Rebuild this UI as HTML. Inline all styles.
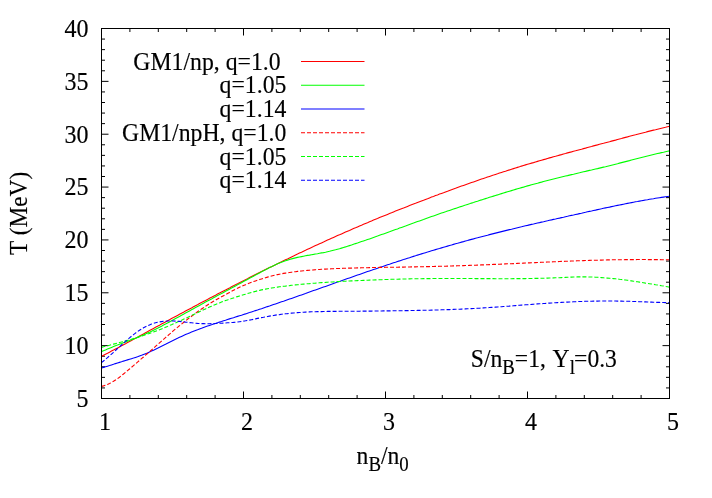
<!DOCTYPE html><html><head><meta charset="utf-8"><style>html,body{margin:0;padding:0;background:#fff}svg{display:block;will-change:transform}text{font-family:"Liberation Serif",serif;font-size:24px;fill:#000;stroke:#000;stroke-width:0.15px}</style></head><body>
<svg width="712" height="498" viewBox="0 0 712 498">
<rect width="712" height="498" fill="#fff"/>
<path d="M101.5,398.5 v-7.0 M101.5,28.5 v7.0 M129.9,398.5 v-3.5 M129.9,28.5 v3.5 M158.3,398.5 v-3.5 M158.3,28.5 v3.5 M186.7,398.5 v-3.5 M186.7,28.5 v3.5 M215.1,398.5 v-3.5 M215.1,28.5 v3.5 M243.5,398.5 v-7.0 M243.5,28.5 v7.0 M271.9,398.5 v-3.5 M271.9,28.5 v3.5 M300.3,398.5 v-3.5 M300.3,28.5 v3.5 M328.7,398.5 v-3.5 M328.7,28.5 v3.5 M357.1,398.5 v-3.5 M357.1,28.5 v3.5 M385.5,398.5 v-7.0 M385.5,28.5 v7.0 M413.9,398.5 v-3.5 M413.9,28.5 v3.5 M442.3,398.5 v-3.5 M442.3,28.5 v3.5 M470.7,398.5 v-3.5 M470.7,28.5 v3.5 M499.1,398.5 v-3.5 M499.1,28.5 v3.5 M527.5,398.5 v-7.0 M527.5,28.5 v7.0 M555.9,398.5 v-3.5 M555.9,28.5 v3.5 M584.3,398.5 v-3.5 M584.3,28.5 v3.5 M612.7,398.5 v-3.5 M612.7,28.5 v3.5 M641.1,398.5 v-3.5 M641.1,28.5 v3.5 M669.5,398.5 v-7.0 M669.5,28.5 v7.0 M101.5,398.50 h7.0 M669.5,398.50 h-7.0 M101.5,387.93 h3.5 M669.5,387.93 h-3.5 M101.5,377.36 h3.5 M669.5,377.36 h-3.5 M101.5,366.79 h3.5 M669.5,366.79 h-3.5 M101.5,356.21 h3.5 M669.5,356.21 h-3.5 M101.5,345.64 h7.0 M669.5,345.64 h-7.0 M101.5,335.07 h3.5 M669.5,335.07 h-3.5 M101.5,324.50 h3.5 M669.5,324.50 h-3.5 M101.5,313.93 h3.5 M669.5,313.93 h-3.5 M101.5,303.36 h3.5 M669.5,303.36 h-3.5 M101.5,292.79 h7.0 M669.5,292.79 h-7.0 M101.5,282.21 h3.5 M669.5,282.21 h-3.5 M101.5,271.64 h3.5 M669.5,271.64 h-3.5 M101.5,261.07 h3.5 M669.5,261.07 h-3.5 M101.5,250.50 h3.5 M669.5,250.50 h-3.5 M101.5,239.93 h7.0 M669.5,239.93 h-7.0 M101.5,229.36 h3.5 M669.5,229.36 h-3.5 M101.5,218.79 h3.5 M669.5,218.79 h-3.5 M101.5,208.21 h3.5 M669.5,208.21 h-3.5 M101.5,197.64 h3.5 M669.5,197.64 h-3.5 M101.5,187.07 h7.0 M669.5,187.07 h-7.0 M101.5,176.50 h3.5 M669.5,176.50 h-3.5 M101.5,165.93 h3.5 M669.5,165.93 h-3.5 M101.5,155.36 h3.5 M669.5,155.36 h-3.5 M101.5,144.79 h3.5 M669.5,144.79 h-3.5 M101.5,134.21 h7.0 M669.5,134.21 h-7.0 M101.5,123.64 h3.5 M669.5,123.64 h-3.5 M101.5,113.07 h3.5 M669.5,113.07 h-3.5 M101.5,102.50 h3.5 M669.5,102.50 h-3.5 M101.5,91.93 h3.5 M669.5,91.93 h-3.5 M101.5,81.36 h7.0 M669.5,81.36 h-7.0 M101.5,70.79 h3.5 M669.5,70.79 h-3.5 M101.5,60.21 h3.5 M669.5,60.21 h-3.5 M101.5,49.64 h3.5 M669.5,49.64 h-3.5 M101.5,39.07 h3.5 M669.5,39.07 h-3.5 M101.5,28.50 h7.0 M669.5,28.50 h-7.0" stroke="#000" stroke-width="1" fill="none"/>
<path d="M101.5,356.4 L103.5,355.3 L105.5,354.3 L107.5,353.3 L109.5,352.2 L111.5,351.1 L113.5,350.1 L115.5,349.0 L117.5,348.0 L119.5,346.9 L121.5,345.8 L123.5,344.7 L125.5,343.7 L127.5,342.6 L129.5,341.5 L131.5,340.4 L133.5,339.3 L135.5,338.2 L137.5,337.2 L139.5,336.1 L141.5,335.0 L143.5,333.9 L145.5,332.8 L147.5,331.7 L149.5,330.6 L151.5,329.5 L153.5,328.4 L155.5,327.3 L157.5,326.2 L159.5,325.2 L161.5,324.1 L163.5,323.0 L165.5,321.9 L167.5,320.8 L169.5,319.7 L171.5,318.6 L173.5,317.6 L175.5,316.5 L177.5,315.4 L179.5,314.3 L181.5,313.2 L183.5,312.2 L185.5,311.1 L187.5,310.0 L189.5,308.9 L191.5,307.9 L193.5,306.8 L195.5,305.7 L197.5,304.7 L199.5,303.6 L201.5,302.6 L203.5,301.5 L205.5,300.4 L207.5,299.4 L209.5,298.3 L211.5,297.3 L213.5,296.2 L215.5,295.2 L217.5,294.1 L219.5,293.1 L221.5,292.0 L223.5,291.0 L225.5,290.0 L227.5,288.9 L229.5,287.9 L231.5,286.8 L233.5,285.8 L235.5,284.8 L237.5,283.8 L239.5,282.7 L241.5,281.7 L243.5,280.7 L245.5,279.7 L247.5,278.7 L249.5,277.6 L251.5,276.6 L253.5,275.6 L255.5,274.6 L257.5,273.6 L259.5,272.6 L261.5,271.6 L263.5,270.6 L265.5,269.6 L267.5,268.6 L269.5,267.6 L271.5,266.7 L273.5,265.7 L275.5,264.7 L277.5,263.7 L279.5,262.7 L281.5,261.8 L283.5,260.8 L285.5,259.8 L287.5,258.9 L289.5,257.9 L291.5,256.9 L293.5,256.0 L295.5,255.0 L297.5,254.1 L299.5,253.1 L301.5,252.2 L303.5,251.2 L305.5,250.3 L307.5,249.3 L309.5,248.4 L311.5,247.5 L313.5,246.6 L315.5,245.6 L317.5,244.7 L319.5,243.8 L321.5,242.9 L323.5,242.0 L325.5,241.0 L327.5,240.1 L329.5,239.2 L331.5,238.3 L333.5,237.4 L335.5,236.5 L337.5,235.6 L339.5,234.8 L341.5,233.9 L343.5,233.0 L345.5,232.1 L347.5,231.2 L349.5,230.4 L351.5,229.5 L353.5,228.6 L355.5,227.8 L357.5,226.9 L359.5,226.0 L361.5,225.2 L363.5,224.3 L365.5,223.5 L367.5,222.7 L369.5,221.8 L371.5,221.0 L373.5,220.1 L375.5,219.3 L377.5,218.5 L379.5,217.6 L381.5,216.8 L383.5,216.0 L385.5,215.2 L387.5,214.4 L389.5,213.6 L391.5,212.8 L393.5,211.9 L395.5,211.1 L397.5,210.3 L399.5,209.5 L401.5,208.7 L403.5,208.0 L405.5,207.2 L407.5,206.4 L409.5,205.6 L411.5,204.8 L413.5,204.0 L415.5,203.3 L417.5,202.5 L419.5,201.7 L421.5,200.9 L423.5,200.2 L425.5,199.4 L427.5,198.7 L429.5,197.9 L431.5,197.1 L433.5,196.4 L435.5,195.6 L437.5,194.9 L439.5,194.1 L441.5,193.4 L443.5,192.7 L445.5,191.9 L447.5,191.2 L449.5,190.4 L451.5,189.7 L453.5,189.0 L455.5,188.3 L457.5,187.5 L459.5,186.8 L461.5,186.1 L463.5,185.4 L465.5,184.7 L467.5,184.0 L469.5,183.3 L471.5,182.6 L473.5,181.9 L475.5,181.2 L477.5,180.5 L479.5,179.8 L481.5,179.1 L483.5,178.4 L485.5,177.8 L487.5,177.1 L489.5,176.4 L491.5,175.7 L493.5,175.1 L495.5,174.4 L497.5,173.8 L499.5,173.1 L501.5,172.4 L503.5,171.8 L505.5,171.2 L507.5,170.5 L509.5,169.9 L511.5,169.2 L513.5,168.6 L515.5,168.0 L517.5,167.4 L519.5,166.8 L521.5,166.1 L523.5,165.5 L525.5,164.9 L527.5,164.3 L529.5,163.7 L531.5,163.1 L533.5,162.6 L535.5,162.0 L537.5,161.4 L539.5,160.8 L541.5,160.2 L543.5,159.6 L545.5,159.1 L547.5,158.5 L549.5,157.9 L551.5,157.4 L553.5,156.8 L555.5,156.3 L557.5,155.7 L559.5,155.1 L561.5,154.6 L563.5,154.0 L565.5,153.5 L567.5,152.9 L569.5,152.4 L571.5,151.9 L573.5,151.3 L575.5,150.8 L577.5,150.2 L579.5,149.7 L581.5,149.2 L583.5,148.6 L585.5,148.1 L587.5,147.5 L589.5,147.0 L591.5,146.5 L593.5,145.9 L595.5,145.4 L597.5,144.9 L599.5,144.3 L601.5,143.8 L603.5,143.3 L605.5,142.7 L607.5,142.2 L609.5,141.7 L611.5,141.1 L613.5,140.6 L615.5,140.1 L617.5,139.5 L619.5,139.0 L621.5,138.5 L623.5,137.9 L625.5,137.4 L627.5,136.9 L629.5,136.3 L631.5,135.8 L633.5,135.3 L635.5,134.8 L637.5,134.2 L639.5,133.7 L641.5,133.2 L643.5,132.7 L645.5,132.2 L647.5,131.6 L649.5,131.1 L651.5,130.6 L653.5,130.1 L655.5,129.7 L657.5,129.2 L659.5,128.7 L661.5,128.2 L663.5,127.7 L665.5,127.3 L667.5,126.8 L669.5,126.3" stroke="#ff0000" stroke-width="1.1" fill="none"/>
<path d="M301,61.45 H364.5" stroke="#ff0000" stroke-width="1.1" fill="none"/>
<path d="M101.5,351.6 L103.5,350.7 L105.5,349.9 L107.5,349.0 L109.5,348.2 L111.5,347.4 L113.5,346.6 L115.5,345.8 L117.5,345.1 L119.5,344.3 L121.5,343.6 L123.5,342.8 L125.5,342.1 L127.5,341.3 L129.5,340.6 L131.5,339.8 L133.5,339.1 L135.5,338.3 L137.5,337.5 L139.5,336.6 L141.5,335.8 L143.5,334.9 L145.5,334.0 L147.5,333.1 L149.5,332.2 L151.5,331.2 L153.5,330.2 L155.5,329.2 L157.5,328.2 L159.5,327.2 L161.5,326.2 L163.5,325.1 L165.5,324.1 L167.5,323.0 L169.5,321.9 L171.5,320.8 L173.5,319.7 L175.5,318.6 L177.5,317.5 L179.5,316.4 L181.5,315.3 L183.5,314.2 L185.5,313.1 L187.5,312.0 L189.5,310.9 L191.5,309.8 L193.5,308.7 L195.5,307.6 L197.5,306.5 L199.5,305.4 L201.5,304.3 L203.5,303.2 L205.5,302.1 L207.5,301.0 L209.5,299.9 L211.5,298.9 L213.5,297.8 L215.5,296.7 L217.5,295.6 L219.5,294.5 L221.5,293.5 L223.5,292.4 L225.5,291.3 L227.5,290.2 L229.5,289.2 L231.5,288.1 L233.5,287.0 L235.5,285.9 L237.5,284.8 L239.5,283.8 L241.5,282.7 L243.5,281.6 L245.5,280.5 L247.5,279.4 L249.5,278.3 L251.5,277.2 L253.5,276.2 L255.5,275.1 L257.5,274.0 L259.5,272.9 L261.5,271.8 L263.5,270.8 L265.5,269.7 L267.5,268.7 L269.5,267.6 L271.5,266.7 L273.5,265.7 L275.5,264.7 L277.5,263.8 L279.5,263.0 L281.5,262.2 L283.5,261.4 L285.5,260.7 L287.5,260.1 L289.5,259.5 L291.5,258.9 L293.5,258.4 L295.5,257.9 L297.5,257.4 L299.5,257.0 L301.5,256.6 L303.5,256.2 L305.5,255.8 L307.5,255.4 L309.5,255.1 L311.5,254.7 L313.5,254.4 L315.5,254.0 L317.5,253.7 L319.5,253.3 L321.5,252.9 L323.5,252.6 L325.5,252.2 L327.5,251.7 L329.5,251.3 L331.5,250.8 L333.5,250.3 L335.5,249.8 L337.5,249.2 L339.5,248.7 L341.5,248.1 L343.5,247.5 L345.5,246.9 L347.5,246.2 L349.5,245.6 L351.5,245.0 L353.5,244.3 L355.5,243.6 L357.5,243.0 L359.5,242.3 L361.5,241.6 L363.5,240.9 L365.5,240.3 L367.5,239.6 L369.5,238.9 L371.5,238.2 L373.5,237.5 L375.5,236.8 L377.5,236.1 L379.5,235.3 L381.5,234.6 L383.5,233.9 L385.5,233.2 L387.5,232.5 L389.5,231.8 L391.5,231.0 L393.5,230.3 L395.5,229.6 L397.5,228.9 L399.5,228.1 L401.5,227.4 L403.5,226.7 L405.5,226.0 L407.5,225.2 L409.5,224.5 L411.5,223.8 L413.5,223.1 L415.5,222.3 L417.5,221.6 L419.5,220.9 L421.5,220.2 L423.5,219.5 L425.5,218.7 L427.5,218.0 L429.5,217.3 L431.5,216.6 L433.5,215.9 L435.5,215.2 L437.5,214.5 L439.5,213.8 L441.5,213.1 L443.5,212.4 L445.5,211.8 L447.5,211.1 L449.5,210.4 L451.5,209.7 L453.5,209.0 L455.5,208.4 L457.5,207.7 L459.5,207.0 L461.5,206.4 L463.5,205.7 L465.5,205.1 L467.5,204.4 L469.5,203.8 L471.5,203.1 L473.5,202.5 L475.5,201.8 L477.5,201.2 L479.5,200.5 L481.5,199.9 L483.5,199.2 L485.5,198.6 L487.5,198.0 L489.5,197.3 L491.5,196.7 L493.5,196.1 L495.5,195.5 L497.5,194.9 L499.5,194.2 L501.5,193.6 L503.5,193.0 L505.5,192.4 L507.5,191.8 L509.5,191.2 L511.5,190.6 L513.5,190.0 L515.5,189.4 L517.5,188.8 L519.5,188.2 L521.5,187.6 L523.5,187.1 L525.5,186.5 L527.5,185.9 L529.5,185.4 L531.5,184.8 L533.5,184.2 L535.5,183.7 L537.5,183.2 L539.5,182.6 L541.5,182.1 L543.5,181.5 L545.5,181.0 L547.5,180.5 L549.5,180.0 L551.5,179.5 L553.5,179.0 L555.5,178.5 L557.5,178.0 L559.5,177.5 L561.5,177.0 L563.5,176.5 L565.5,176.0 L567.5,175.6 L569.5,175.1 L571.5,174.6 L573.5,174.2 L575.5,173.7 L577.5,173.2 L579.5,172.8 L581.5,172.3 L583.5,171.8 L585.5,171.4 L587.5,170.9 L589.5,170.4 L591.5,170.0 L593.5,169.5 L595.5,169.0 L597.5,168.6 L599.5,168.1 L601.5,167.6 L603.5,167.1 L605.5,166.7 L607.5,166.2 L609.5,165.7 L611.5,165.2 L613.5,164.7 L615.5,164.2 L617.5,163.7 L619.5,163.1 L621.5,162.6 L623.5,162.1 L625.5,161.6 L627.5,161.1 L629.5,160.6 L631.5,160.0 L633.5,159.5 L635.5,159.0 L637.5,158.5 L639.5,158.0 L641.5,157.5 L643.5,157.0 L645.5,156.5 L647.5,156.0 L649.5,155.5 L651.5,155.0 L653.5,154.5 L655.5,154.0 L657.5,153.5 L659.5,153.1 L661.5,152.6 L663.5,152.2 L665.5,151.7 L667.5,151.3 L669.5,150.9" stroke="#00ff00" stroke-width="1.1" fill="none"/>
<path d="M301,85.20 H364.5" stroke="#00ff00" stroke-width="1.1" fill="none"/>
<path d="M101.5,368.0 L103.5,367.4 L105.5,366.8 L107.5,366.2 L109.5,365.6 L111.5,364.9 L113.5,364.3 L115.5,363.6 L117.5,363.0 L119.5,362.4 L121.5,361.8 L123.5,361.1 L125.5,360.5 L127.5,359.9 L129.5,359.3 L131.5,358.7 L133.5,358.1 L135.5,357.4 L137.5,356.8 L139.5,356.0 L141.5,355.3 L143.5,354.5 L145.5,353.7 L147.5,352.9 L149.5,352.0 L151.5,351.1 L153.5,350.2 L155.5,349.2 L157.5,348.3 L159.5,347.3 L161.5,346.3 L163.5,345.3 L165.5,344.3 L167.5,343.2 L169.5,342.2 L171.5,341.2 L173.5,340.2 L175.5,339.2 L177.5,338.3 L179.5,337.3 L181.5,336.4 L183.5,335.5 L185.5,334.6 L187.5,333.8 L189.5,332.9 L191.5,332.1 L193.5,331.3 L195.5,330.5 L197.5,329.8 L199.5,329.0 L201.5,328.3 L203.5,327.5 L205.5,326.8 L207.5,326.1 L209.5,325.4 L211.5,324.8 L213.5,324.1 L215.5,323.4 L217.5,322.8 L219.5,322.1 L221.5,321.5 L223.5,320.8 L225.5,320.2 L227.5,319.5 L229.5,318.9 L231.5,318.3 L233.5,317.7 L235.5,317.0 L237.5,316.4 L239.5,315.8 L241.5,315.2 L243.5,314.5 L245.5,313.9 L247.5,313.2 L249.5,312.6 L251.5,311.9 L253.5,311.3 L255.5,310.6 L257.5,310.0 L259.5,309.3 L261.5,308.7 L263.5,308.0 L265.5,307.3 L267.5,306.6 L269.5,306.0 L271.5,305.3 L273.5,304.6 L275.5,303.9 L277.5,303.2 L279.5,302.5 L281.5,301.8 L283.5,301.2 L285.5,300.5 L287.5,299.8 L289.5,299.1 L291.5,298.4 L293.5,297.7 L295.5,297.0 L297.5,296.3 L299.5,295.6 L301.5,294.9 L303.5,294.2 L305.5,293.5 L307.5,292.7 L309.5,292.0 L311.5,291.3 L313.5,290.6 L315.5,289.9 L317.5,289.2 L319.5,288.5 L321.5,287.8 L323.5,287.1 L325.5,286.4 L327.5,285.7 L329.5,285.0 L331.5,284.3 L333.5,283.5 L335.5,282.8 L337.5,282.1 L339.5,281.4 L341.5,280.7 L343.5,280.0 L345.5,279.3 L347.5,278.6 L349.5,277.9 L351.5,277.2 L353.5,276.5 L355.5,275.8 L357.5,275.1 L359.5,274.4 L361.5,273.7 L363.5,273.0 L365.5,272.3 L367.5,271.6 L369.5,270.9 L371.5,270.3 L373.5,269.6 L375.5,268.9 L377.5,268.2 L379.5,267.5 L381.5,266.9 L383.5,266.2 L385.5,265.5 L387.5,264.8 L389.5,264.2 L391.5,263.5 L393.5,262.8 L395.5,262.2 L397.5,261.5 L399.5,260.9 L401.5,260.2 L403.5,259.6 L405.5,258.9 L407.5,258.3 L409.5,257.7 L411.5,257.0 L413.5,256.4 L415.5,255.8 L417.5,255.1 L419.5,254.5 L421.5,253.9 L423.5,253.3 L425.5,252.7 L427.5,252.1 L429.5,251.4 L431.5,250.8 L433.5,250.2 L435.5,249.6 L437.5,249.0 L439.5,248.5 L441.5,247.9 L443.5,247.3 L445.5,246.7 L447.5,246.1 L449.5,245.5 L451.5,245.0 L453.5,244.4 L455.5,243.8 L457.5,243.3 L459.5,242.7 L461.5,242.1 L463.5,241.6 L465.5,241.0 L467.5,240.5 L469.5,239.9 L471.5,239.4 L473.5,238.9 L475.5,238.3 L477.5,237.8 L479.5,237.2 L481.5,236.7 L483.5,236.2 L485.5,235.7 L487.5,235.2 L489.5,234.6 L491.5,234.1 L493.5,233.6 L495.5,233.1 L497.5,232.6 L499.5,232.1 L501.5,231.6 L503.5,231.1 L505.5,230.6 L507.5,230.1 L509.5,229.6 L511.5,229.2 L513.5,228.7 L515.5,228.2 L517.5,227.7 L519.5,227.2 L521.5,226.8 L523.5,226.3 L525.5,225.8 L527.5,225.4 L529.5,224.9 L531.5,224.4 L533.5,224.0 L535.5,223.5 L537.5,223.0 L539.5,222.6 L541.5,222.1 L543.5,221.7 L545.5,221.2 L547.5,220.8 L549.5,220.3 L551.5,219.9 L553.5,219.4 L555.5,219.0 L557.5,218.5 L559.5,218.1 L561.5,217.6 L563.5,217.2 L565.5,216.7 L567.5,216.3 L569.5,215.8 L571.5,215.4 L573.5,215.0 L575.5,214.5 L577.5,214.1 L579.5,213.6 L581.5,213.2 L583.5,212.7 L585.5,212.3 L587.5,211.8 L589.5,211.4 L591.5,211.0 L593.5,210.5 L595.5,210.1 L597.5,209.6 L599.5,209.2 L601.5,208.8 L603.5,208.3 L605.5,207.9 L607.5,207.5 L609.5,207.1 L611.5,206.6 L613.5,206.2 L615.5,205.8 L617.5,205.4 L619.5,205.0 L621.5,204.6 L623.5,204.2 L625.5,203.8 L627.5,203.4 L629.5,203.0 L631.5,202.6 L633.5,202.2 L635.5,201.8 L637.5,201.5 L639.5,201.1 L641.5,200.7 L643.5,200.4 L645.5,200.0 L647.5,199.7 L649.5,199.3 L651.5,199.0 L653.5,198.7 L655.5,198.3 L657.5,198.0 L659.5,197.7 L661.5,197.4 L663.5,197.1 L665.5,196.8 L667.5,196.5 L669.5,196.3" stroke="#0000ff" stroke-width="1.1" fill="none"/>
<path d="M301,108.95 H364.5" stroke="#0000ff" stroke-width="1.1" fill="none"/>
<path d="M101.5,386.4 L103.5,385.9 L105.5,385.3 L107.5,384.5 L109.5,383.6 L111.5,382.5 L113.5,381.3 L115.5,380.0 L117.5,378.7 L119.5,377.2 L121.5,375.6 L123.5,374.0 L125.5,372.4 L127.5,370.7 L129.5,369.0 L131.5,367.3 L133.5,365.6 L135.5,363.9 L137.5,362.2 L139.5,360.4 L141.5,358.7 L143.5,357.0 L145.5,355.2 L147.5,353.5 L149.5,351.7 L151.5,350.0 L153.5,348.2 L155.5,346.4 L157.5,344.7 L159.5,342.9 L161.5,341.1 L163.5,339.4 L165.5,337.6 L167.5,335.9 L169.5,334.2 L171.5,332.4 L173.5,330.7 L175.5,329.0 L177.5,327.4 L179.5,325.7 L181.5,324.1 L183.5,322.5 L185.5,320.9 L187.5,319.3 L189.5,317.8 L191.5,316.3 L193.5,314.8 L195.5,313.3 L197.5,311.8 L199.5,310.4 L201.5,309.0 L203.5,307.7 L205.5,306.3 L207.5,305.0 L209.5,303.7 L211.5,302.5 L213.5,301.3 L215.5,300.2 L217.5,299.0 L219.5,297.9 L221.5,296.8 L223.5,295.7 L225.5,294.6 L227.5,293.5 L229.5,292.4 L231.5,291.4 L233.5,290.3 L235.5,289.3 L237.5,288.3 L239.5,287.3 L241.5,286.4 L243.5,285.5 L245.5,284.7 L247.5,283.8 L249.5,283.1 L251.5,282.3 L253.5,281.6 L255.5,280.9 L257.5,280.2 L259.5,279.6 L261.5,278.9 L263.5,278.3 L265.5,277.7 L267.5,277.1 L269.5,276.5 L271.5,276.0 L273.5,275.5 L275.5,275.0 L277.5,274.6 L279.5,274.2 L281.5,273.8 L283.5,273.4 L285.5,273.1 L287.5,272.8 L289.5,272.5 L291.5,272.2 L293.5,271.9 L295.5,271.7 L297.5,271.4 L299.5,271.2 L301.5,271.0 L303.5,270.8 L305.5,270.6 L307.5,270.4 L309.5,270.2 L311.5,270.0 L313.5,269.9 L315.5,269.7 L317.5,269.6 L319.5,269.5 L321.5,269.3 L323.5,269.2 L325.5,269.1 L327.5,269.0 L329.5,268.9 L331.5,268.8 L333.5,268.7 L335.5,268.6 L337.5,268.5 L339.5,268.5 L341.5,268.4 L343.5,268.3 L345.5,268.3 L347.5,268.2 L349.5,268.1 L351.5,268.1 L353.5,268.0 L355.5,268.0 L357.5,267.9 L359.5,267.9 L361.5,267.8 L363.5,267.8 L365.5,267.7 L367.5,267.7 L369.5,267.6 L371.5,267.6 L373.5,267.5 L375.5,267.5 L377.5,267.5 L379.5,267.4 L381.5,267.4 L383.5,267.4 L385.5,267.3 L387.5,267.3 L389.5,267.3 L391.5,267.2 L393.5,267.2 L395.5,267.2 L397.5,267.2 L399.5,267.1 L401.5,267.1 L403.5,267.1 L405.5,267.0 L407.5,267.0 L409.5,267.0 L411.5,266.9 L413.5,266.9 L415.5,266.9 L417.5,266.8 L419.5,266.8 L421.5,266.8 L423.5,266.7 L425.5,266.7 L427.5,266.6 L429.5,266.6 L431.5,266.5 L433.5,266.5 L435.5,266.4 L437.5,266.4 L439.5,266.3 L441.5,266.3 L443.5,266.2 L445.5,266.2 L447.5,266.1 L449.5,266.1 L451.5,266.0 L453.5,265.9 L455.5,265.9 L457.5,265.8 L459.5,265.7 L461.5,265.7 L463.5,265.6 L465.5,265.5 L467.5,265.5 L469.5,265.4 L471.5,265.3 L473.5,265.2 L475.5,265.2 L477.5,265.1 L479.5,265.0 L481.5,264.9 L483.5,264.9 L485.5,264.8 L487.5,264.7 L489.5,264.6 L491.5,264.5 L493.5,264.4 L495.5,264.4 L497.5,264.3 L499.5,264.2 L501.5,264.1 L503.5,264.0 L505.5,263.9 L507.5,263.8 L509.5,263.8 L511.5,263.7 L513.5,263.6 L515.5,263.5 L517.5,263.4 L519.5,263.3 L521.5,263.2 L523.5,263.1 L525.5,263.0 L527.5,262.9 L529.5,262.9 L531.5,262.8 L533.5,262.7 L535.5,262.6 L537.5,262.5 L539.5,262.4 L541.5,262.3 L543.5,262.2 L545.5,262.1 L547.5,262.0 L549.5,262.0 L551.5,261.9 L553.5,261.8 L555.5,261.7 L557.5,261.6 L559.5,261.5 L561.5,261.4 L563.5,261.4 L565.5,261.3 L567.5,261.2 L569.5,261.1 L571.5,261.0 L573.5,261.0 L575.5,260.9 L577.5,260.8 L579.5,260.7 L581.5,260.7 L583.5,260.6 L585.5,260.5 L587.5,260.5 L589.5,260.4 L591.5,260.3 L593.5,260.3 L595.5,260.2 L597.5,260.2 L599.5,260.1 L601.5,260.1 L603.5,260.0 L605.5,260.0 L607.5,259.9 L609.5,259.9 L611.5,259.8 L613.5,259.8 L615.5,259.8 L617.5,259.7 L619.5,259.7 L621.5,259.7 L623.5,259.7 L625.5,259.6 L627.5,259.6 L629.5,259.6 L631.5,259.6 L633.5,259.6 L635.5,259.6 L637.5,259.5 L639.5,259.5 L641.5,259.5 L643.5,259.5 L645.5,259.5 L647.5,259.6 L649.5,259.6 L651.5,259.6 L653.5,259.6 L655.5,259.6 L657.5,259.6 L659.5,259.6 L661.5,259.7 L663.5,259.7 L665.5,259.7 L667.5,259.8 L669.5,259.8" stroke="#ff0000" stroke-width="1.1" fill="none" stroke-dasharray="4 2"/>
<path d="M301,132.70 H364.5" stroke="#ff0000" stroke-width="1.1" fill="none" stroke-dasharray="4 2"/>
<path d="M101.5,347.4 L103.5,346.8 L105.5,346.3 L107.5,345.7 L109.5,345.2 L111.5,344.6 L113.5,344.1 L115.5,343.6 L117.5,343.0 L119.5,342.5 L121.5,342.0 L123.5,341.4 L125.5,340.9 L127.5,340.4 L129.5,339.8 L131.5,339.2 L133.5,338.6 L135.5,338.0 L137.5,337.4 L139.5,336.8 L141.5,336.1 L143.5,335.5 L145.5,334.8 L147.5,334.1 L149.5,333.4 L151.5,332.7 L153.5,332.0 L155.5,331.2 L157.5,330.5 L159.5,329.7 L161.5,328.9 L163.5,328.1 L165.5,327.2 L167.5,326.4 L169.5,325.5 L171.5,324.7 L173.5,323.8 L175.5,322.9 L177.5,322.0 L179.5,321.1 L181.5,320.2 L183.5,319.2 L185.5,318.3 L187.5,317.4 L189.5,316.4 L191.5,315.5 L193.5,314.5 L195.5,313.6 L197.5,312.7 L199.5,311.7 L201.5,310.8 L203.5,309.8 L205.5,308.9 L207.5,308.0 L209.5,307.1 L211.5,306.2 L213.5,305.3 L215.5,304.5 L217.5,303.7 L219.5,302.9 L221.5,302.1 L223.5,301.3 L225.5,300.6 L227.5,299.9 L229.5,299.2 L231.5,298.6 L233.5,297.9 L235.5,297.3 L237.5,296.6 L239.5,296.0 L241.5,295.4 L243.5,294.8 L245.5,294.2 L247.5,293.6 L249.5,293.0 L251.5,292.4 L253.5,291.9 L255.5,291.4 L257.5,290.8 L259.5,290.4 L261.5,289.9 L263.5,289.5 L265.5,289.1 L267.5,288.7 L269.5,288.4 L271.5,288.0 L273.5,287.7 L275.5,287.4 L277.5,287.1 L279.5,286.8 L281.5,286.6 L283.5,286.3 L285.5,286.1 L287.5,285.8 L289.5,285.6 L291.5,285.3 L293.5,285.1 L295.5,284.9 L297.5,284.7 L299.5,284.5 L301.5,284.3 L303.5,284.1 L305.5,283.9 L307.5,283.7 L309.5,283.6 L311.5,283.4 L313.5,283.2 L315.5,283.1 L317.5,282.9 L319.5,282.8 L321.5,282.6 L323.5,282.5 L325.5,282.4 L327.5,282.2 L329.5,282.1 L331.5,282.0 L333.5,281.9 L335.5,281.7 L337.5,281.6 L339.5,281.5 L341.5,281.4 L343.5,281.3 L345.5,281.2 L347.5,281.1 L349.5,281.0 L351.5,280.9 L353.5,280.8 L355.5,280.7 L357.5,280.6 L359.5,280.5 L361.5,280.5 L363.5,280.4 L365.5,280.3 L367.5,280.2 L369.5,280.1 L371.5,280.0 L373.5,280.0 L375.5,279.9 L377.5,279.8 L379.5,279.7 L381.5,279.7 L383.5,279.6 L385.5,279.5 L387.5,279.5 L389.5,279.4 L391.5,279.3 L393.5,279.3 L395.5,279.2 L397.5,279.2 L399.5,279.1 L401.5,279.1 L403.5,279.0 L405.5,279.0 L407.5,278.9 L409.5,278.9 L411.5,278.8 L413.5,278.8 L415.5,278.8 L417.5,278.7 L419.5,278.7 L421.5,278.7 L423.5,278.6 L425.5,278.6 L427.5,278.6 L429.5,278.6 L431.5,278.6 L433.5,278.5 L435.5,278.5 L437.5,278.5 L439.5,278.5 L441.5,278.5 L443.5,278.5 L445.5,278.5 L447.5,278.5 L449.5,278.5 L451.5,278.5 L453.5,278.5 L455.5,278.5 L457.5,278.5 L459.5,278.5 L461.5,278.5 L463.5,278.5 L465.5,278.5 L467.5,278.5 L469.5,278.5 L471.5,278.5 L473.5,278.5 L475.5,278.6 L477.5,278.6 L479.5,278.6 L481.5,278.6 L483.5,278.6 L485.5,278.6 L487.5,278.6 L489.5,278.6 L491.5,278.6 L493.5,278.6 L495.5,278.7 L497.5,278.7 L499.5,278.7 L501.5,278.7 L503.5,278.7 L505.5,278.7 L507.5,278.7 L509.5,278.7 L511.5,278.7 L513.5,278.6 L515.5,278.6 L517.5,278.6 L519.5,278.6 L521.5,278.6 L523.5,278.6 L525.5,278.6 L527.5,278.5 L529.5,278.5 L531.5,278.5 L533.5,278.4 L535.5,278.4 L537.5,278.4 L539.5,278.3 L541.5,278.3 L543.5,278.2 L545.5,278.2 L547.5,278.1 L549.5,278.0 L551.5,278.0 L553.5,277.9 L555.5,277.8 L557.5,277.7 L559.5,277.7 L561.5,277.6 L563.5,277.5 L565.5,277.4 L567.5,277.3 L569.5,277.2 L571.5,277.1 L573.5,277.0 L575.5,277.0 L577.5,276.9 L579.5,276.9 L581.5,276.9 L583.5,276.9 L585.5,276.9 L587.5,276.9 L589.5,277.0 L591.5,277.0 L593.5,277.1 L595.5,277.2 L597.5,277.3 L599.5,277.5 L601.5,277.6 L603.5,277.8 L605.5,277.9 L607.5,278.1 L609.5,278.3 L611.5,278.4 L613.5,278.6 L615.5,278.8 L617.5,279.0 L619.5,279.3 L621.5,279.5 L623.5,279.8 L625.5,280.0 L627.5,280.3 L629.5,280.6 L631.5,280.9 L633.5,281.2 L635.5,281.5 L637.5,281.8 L639.5,282.1 L641.5,282.4 L643.5,282.7 L645.5,283.1 L647.5,283.4 L649.5,283.7 L651.5,284.0 L653.5,284.3 L655.5,284.7 L657.5,285.0 L659.5,285.3 L661.5,285.7 L663.5,286.0 L665.5,286.4 L667.5,286.8 L669.5,287.2" stroke="#00ff00" stroke-width="1.1" fill="none" stroke-dasharray="4 2"/>
<path d="M301,156.45 H364.5" stroke="#00ff00" stroke-width="1.1" fill="none" stroke-dasharray="4 2"/>
<path d="M101.5,362.7 L103.5,361.0 L105.5,359.3 L107.5,357.6 L109.5,355.9 L111.5,354.1 L113.5,352.3 L115.5,350.5 L117.5,348.6 L119.5,346.8 L121.5,345.0 L123.5,343.2 L125.5,341.4 L127.5,339.6 L129.5,337.9 L131.5,336.2 L133.5,334.6 L135.5,333.1 L137.5,331.6 L139.5,330.3 L141.5,329.0 L143.5,327.8 L145.5,326.7 L147.5,325.7 L149.5,324.9 L151.5,324.1 L153.5,323.4 L155.5,322.8 L157.5,322.3 L159.5,321.9 L161.5,321.6 L163.5,321.3 L165.5,321.2 L167.5,321.0 L169.5,321.0 L171.5,321.0 L173.5,321.0 L175.5,321.1 L177.5,321.2 L179.5,321.4 L181.5,321.6 L183.5,321.8 L185.5,322.1 L187.5,322.3 L189.5,322.6 L191.5,322.8 L193.5,323.0 L195.5,323.2 L197.5,323.4 L199.5,323.5 L201.5,323.6 L203.5,323.6 L205.5,323.7 L207.5,323.7 L209.5,323.7 L211.5,323.6 L213.5,323.6 L215.5,323.5 L217.5,323.4 L219.5,323.3 L221.5,323.2 L223.5,323.1 L225.5,323.0 L227.5,322.8 L229.5,322.7 L231.5,322.5 L233.5,322.4 L235.5,322.2 L237.5,322.0 L239.5,321.7 L241.5,321.4 L243.5,321.1 L245.5,320.8 L247.5,320.4 L249.5,320.1 L251.5,319.7 L253.5,319.3 L255.5,318.9 L257.5,318.4 L259.5,318.0 L261.5,317.6 L263.5,317.3 L265.5,316.9 L267.5,316.5 L269.5,316.1 L271.5,315.8 L273.5,315.5 L275.5,315.1 L277.5,314.8 L279.5,314.6 L281.5,314.3 L283.5,314.0 L285.5,313.8 L287.5,313.6 L289.5,313.3 L291.5,313.1 L293.5,313.0 L295.5,312.8 L297.5,312.6 L299.5,312.5 L301.5,312.4 L303.5,312.2 L305.5,312.1 L307.5,312.0 L309.5,311.9 L311.5,311.8 L313.5,311.8 L315.5,311.7 L317.5,311.6 L319.5,311.6 L321.5,311.6 L323.5,311.5 L325.5,311.5 L327.5,311.4 L329.5,311.4 L331.5,311.4 L333.5,311.4 L335.5,311.4 L337.5,311.3 L339.5,311.3 L341.5,311.3 L343.5,311.3 L345.5,311.3 L347.5,311.3 L349.5,311.2 L351.5,311.2 L353.5,311.2 L355.5,311.2 L357.5,311.2 L359.5,311.2 L361.5,311.1 L363.5,311.1 L365.5,311.1 L367.5,311.1 L369.5,311.1 L371.5,311.1 L373.5,311.0 L375.5,311.0 L377.5,311.0 L379.5,311.0 L381.5,311.0 L383.5,310.9 L385.5,310.9 L387.5,310.9 L389.5,310.9 L391.5,310.8 L393.5,310.8 L395.5,310.8 L397.5,310.8 L399.5,310.7 L401.5,310.7 L403.5,310.7 L405.5,310.6 L407.5,310.6 L409.5,310.6 L411.5,310.5 L413.5,310.5 L415.5,310.5 L417.5,310.4 L419.5,310.4 L421.5,310.3 L423.5,310.3 L425.5,310.3 L427.5,310.2 L429.5,310.2 L431.5,310.1 L433.5,310.1 L435.5,310.0 L437.5,310.0 L439.5,309.9 L441.5,309.8 L443.5,309.8 L445.5,309.7 L447.5,309.6 L449.5,309.6 L451.5,309.5 L453.5,309.4 L455.5,309.3 L457.5,309.3 L459.5,309.2 L461.5,309.1 L463.5,309.0 L465.5,308.9 L467.5,308.8 L469.5,308.7 L471.5,308.6 L473.5,308.5 L475.5,308.4 L477.5,308.3 L479.5,308.2 L481.5,308.0 L483.5,307.9 L485.5,307.8 L487.5,307.7 L489.5,307.5 L491.5,307.4 L493.5,307.3 L495.5,307.1 L497.5,307.0 L499.5,306.8 L501.5,306.7 L503.5,306.5 L505.5,306.4 L507.5,306.2 L509.5,306.1 L511.5,305.9 L513.5,305.8 L515.5,305.6 L517.5,305.5 L519.5,305.3 L521.5,305.1 L523.5,305.0 L525.5,304.8 L527.5,304.7 L529.5,304.5 L531.5,304.4 L533.5,304.2 L535.5,304.1 L537.5,303.9 L539.5,303.8 L541.5,303.7 L543.5,303.5 L545.5,303.4 L547.5,303.2 L549.5,303.1 L551.5,303.0 L553.5,302.9 L555.5,302.7 L557.5,302.6 L559.5,302.5 L561.5,302.4 L563.5,302.3 L565.5,302.2 L567.5,302.1 L569.5,302.0 L571.5,301.9 L573.5,301.8 L575.5,301.7 L577.5,301.6 L579.5,301.5 L581.5,301.5 L583.5,301.4 L585.5,301.3 L587.5,301.3 L589.5,301.2 L591.5,301.2 L593.5,301.1 L595.5,301.1 L597.5,301.1 L599.5,301.0 L601.5,301.0 L603.5,301.0 L605.5,301.0 L607.5,301.0 L609.5,301.0 L611.5,301.0 L613.5,301.0 L615.5,301.0 L617.5,301.1 L619.5,301.1 L621.5,301.1 L623.5,301.2 L625.5,301.2 L627.5,301.3 L629.5,301.3 L631.5,301.4 L633.5,301.5 L635.5,301.5 L637.5,301.6 L639.5,301.7 L641.5,301.8 L643.5,301.8 L645.5,301.9 L647.5,302.0 L649.5,302.1 L651.5,302.1 L653.5,302.2 L655.5,302.3 L657.5,302.4 L659.5,302.4 L661.5,302.5 L663.5,302.5 L665.5,302.6 L667.5,302.6 L669.5,302.7" stroke="#0000ff" stroke-width="1.1" fill="none" stroke-dasharray="4 2"/>
<path d="M301,180.20 H364.5" stroke="#0000ff" stroke-width="1.1" fill="none" stroke-dasharray="4 2"/>
<rect x="101.5" y="28.5" width="568.0" height="370.0" fill="none" stroke="#000" stroke-width="1"/>
<text transform="translate(88.40,406.90) scale(1.000,1.050)" text-anchor="end" xml:space="preserve">5</text>
<text transform="translate(88.40,354.04) scale(1.000,1.050)" text-anchor="end" xml:space="preserve">10</text>
<text transform="translate(88.40,301.19) scale(1.000,1.050)" text-anchor="end" xml:space="preserve">15</text>
<text transform="translate(88.40,248.33) scale(1.000,1.050)" text-anchor="end" xml:space="preserve">20</text>
<text transform="translate(88.40,195.47) scale(1.000,1.050)" text-anchor="end" xml:space="preserve">25</text>
<text transform="translate(88.40,142.61) scale(1.000,1.050)" text-anchor="end" xml:space="preserve">30</text>
<text transform="translate(88.40,89.76) scale(1.000,1.050)" text-anchor="end" xml:space="preserve">35</text>
<text transform="translate(88.40,36.90) scale(1.000,1.050)" text-anchor="end" xml:space="preserve">40</text>
<text transform="translate(105.10,430.30) scale(1.000,1.040)" text-anchor="middle" xml:space="preserve">1</text>
<text transform="translate(247.10,430.30) scale(1.000,1.040)" text-anchor="middle" xml:space="preserve">2</text>
<text transform="translate(389.10,430.30) scale(1.000,1.040)" text-anchor="middle" xml:space="preserve">3</text>
<text transform="translate(531.10,430.30) scale(1.000,1.040)" text-anchor="middle" xml:space="preserve">4</text>
<text transform="translate(673.10,430.30) scale(1.000,1.040)" text-anchor="middle" xml:space="preserve">5</text>
<text transform="translate(280.60,69.50) scale(0.990,1.070)" text-anchor="end" xml:space="preserve">GM1/np, q=1.0</text>
<text transform="translate(286.40,93.25) scale(0.990,1.070)" text-anchor="end" xml:space="preserve">q=1.05</text>
<text transform="translate(286.40,117.00) scale(0.990,1.070)" text-anchor="end" xml:space="preserve">q=1.14</text>
<text transform="translate(286.40,140.75) scale(0.990,1.070)" text-anchor="end" xml:space="preserve">GM1/npH, q=1.0</text>
<text transform="translate(286.40,164.50) scale(0.990,1.070)" text-anchor="end" xml:space="preserve">q=1.05</text>
<text transform="translate(286.40,188.25) scale(0.990,1.070)" text-anchor="end" xml:space="preserve">q=1.14</text>
<text transform="translate(356.60,463.90) scale(0.983,1.070)" xml:space="preserve">n<tspan font-size="19.2" dy="6.8">B</tspan><tspan dy="-6.8">/n</tspan><tspan font-size="19.2" dy="6.8">0</tspan></text>
<text transform="translate(26.70,254.90) rotate(-90) scale(0.972,1.020)" xml:space="preserve">T (MeV)</text>
<text transform="translate(470.80,367.30) scale(0.983,1.070)" xml:space="preserve">S/n<tspan font-size="19.2" dy="6.0">B</tspan><tspan dy="-6.0">=1,</tspan><tspan dx="1.8"> Y</tspan><tspan font-size="19.2" dy="6.0">l</tspan><tspan dy="-6.0" dx="-0.8">=0.3</tspan></text>
</svg></body></html>
